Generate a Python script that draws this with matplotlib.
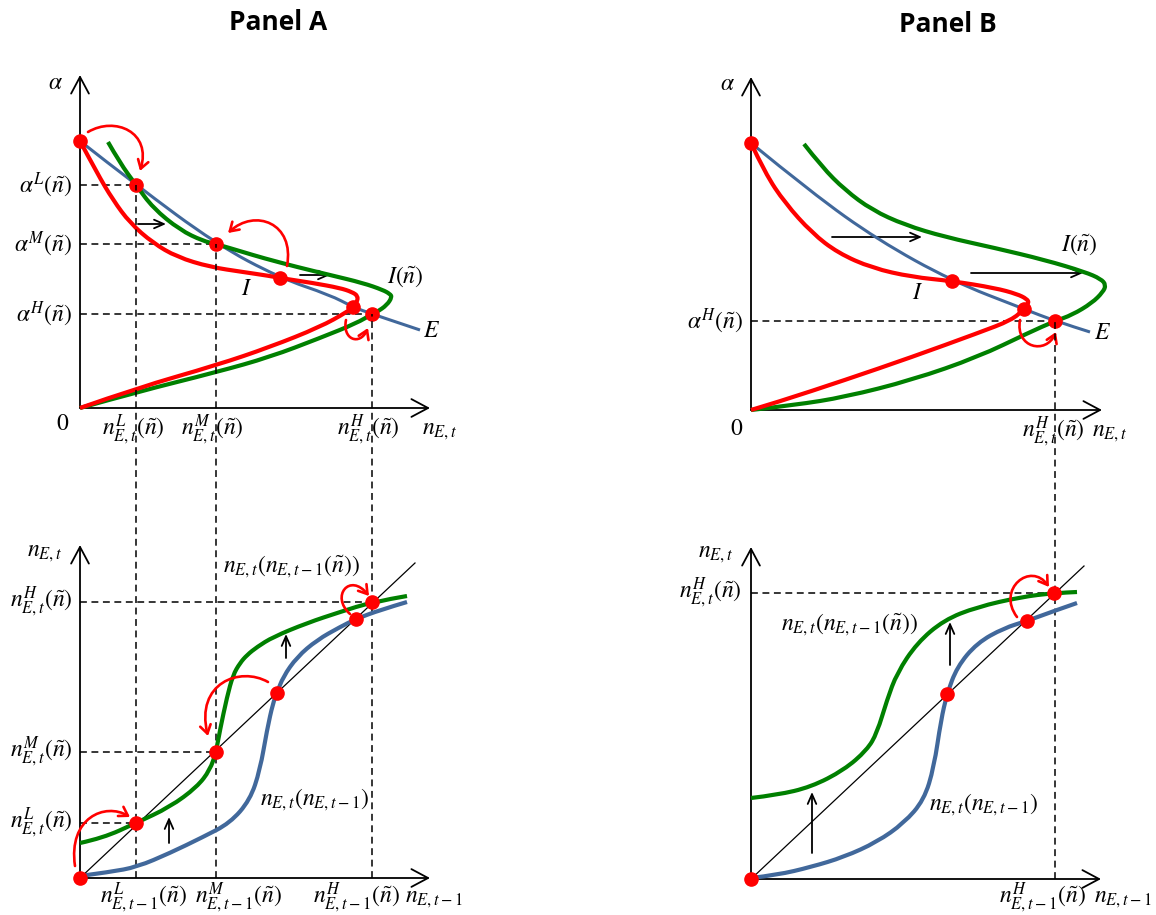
import matplotlib
matplotlib.use("Agg")
import matplotlib.pyplot as plt
from matplotlib.patches import FancyArrowPatch, PathPatch
from matplotlib.path import Path

plt.rcParams["mathtext.fontset"] = "stix"

W, H = 1156, 915
RED = "#ff0000"
GREEN = "#008000"
BLUE = "#41689b"

# ---------------- Panel A, upper chart: alpha against n_E,t ----------------
a_top_E_x = [0, 56, 136, 200, 250, 273, 292, 340]
a_top_E_y = [267, 223, 164, 130, 113, 101, 94, 78]
a_top_Itil_x = [28, 40, 56, 73, 100, 123, 136, 163, 183, 217, 250, 283, 303, 310, 312, 307,
                297, 292, 277, 240, 190, 137, 57, 0]
a_top_Itil_y = [266, 245, 223, 200, 178, 167, 164, 156, 150, 141, 133, 125, 118, 114, 111, 103,
                96, 94, 85, 70, 51, 36, 16, 0]
a_top_I_x = [0, 17, 33, 50, 73, 97, 130, 163, 190, 200, 233, 260, 272, 278, 277, 273, 267,
             240, 190, 137, 57, 0]
a_top_I_y = [267, 235, 208, 185, 165, 151, 141, 136, 132, 130, 125, 120, 116, 112, 106, 101, 96,
             81, 61, 43, 20, 0]
a_top_eq_x = [56, 136, 292]          # n^L, n^M, n^H
a_top_eq_y = [223, 164, 94]          # alpha^L, alpha^M, alpha^H
a_top_dots_x = [0, 56, 136, 200, 273, 292]
a_top_dots_y = [267, 223, 164, 130, 101, 94]

# ---------------- Panel A, lower chart: n_E,t against n_E,t-1 ----------------
a_bot_diag_x = [0, 335]
a_bot_diag_y = [0, 315]
a_bot_green_x = [0, 23, 56, 90, 117, 130, 136, 140, 147, 153, 160, 167, 177, 193, 227, 260, 292, 327]
a_bot_green_y = [35, 40, 55, 71, 91, 108, 126, 148, 181, 203, 215, 223, 231, 241, 255, 266, 276, 282]
a_bot_blue_x = [0, 30, 57, 90, 123, 150, 170, 180, 187, 193, 197, 203, 217, 237, 260, 276, 300, 327]
a_bot_blue_y = [2, 6, 11, 25, 41, 55, 78, 108, 148, 175, 185, 201, 221, 238, 251, 259, 268, 276]
a_bot_eq_y = [55, 126, 276]
a_bot_dots_x = [0, 56, 136, 197, 276, 292]
a_bot_dots_y = [0, 55, 126, 185, 259, 276]

# ---------------- Panel B, upper chart ----------------
b_top_E_x = [0, 61, 127, 201, 273, 304, 339]
b_top_E_y = [267, 217, 170, 129, 101, 89, 78]
b_top_I_x = [0, 14, 34, 61, 87, 121, 161, 201, 244, 266, 276, 278, 273, 261, 227, 161, 94, 27, 0]
b_top_I_y = [267, 237, 207, 177, 157, 142, 133, 129, 122, 116, 111, 107, 101, 90, 77, 53, 30, 8, 0]
b_top_Itil_x = [53, 71, 94, 121, 154, 194, 244, 294, 334, 350, 355, 352, 341, 321, 304, 277, 227,
                161, 94, 44, 0]
b_top_Itil_y = [266, 243, 220, 200, 185, 173, 162, 150, 138, 131, 125, 118, 107, 95, 89, 77, 53,
                30, 13, 5, 0]
b_top_eq_x = [304]
b_top_eq_y = [89]
b_top_dots_x = [0, 201, 273, 304]
b_top_dots_y = [267, 129, 101, 89]

# ---------------- Panel B, lower chart ----------------
b_bot_diag_x = [0, 333]
b_bot_diag_y = [0, 313]
b_bot_green_x = [0, 26, 60, 93, 116, 126, 136, 146, 166, 193, 226, 270, 303, 326]
b_bot_green_y = [81, 84, 92, 109, 129, 146, 179, 206, 236, 259, 272, 282, 286, 287]
b_bot_blue_x = [0, 26, 60, 93, 126, 153, 173, 183, 190, 196, 206, 226, 253, 276, 300, 326]
b_bot_blue_y = [1, 4, 12, 22, 37, 56, 79, 112, 159, 185, 212, 236, 251, 258, 267, 276]
b_bot_eq_y = [286]
b_bot_dots_x = [0, 196, 276, 303]
b_bot_dots_y = [0, 185, 258, 286]

fig = plt.figure(figsize=(W / 100, H / 100), dpi=100)


def panel(ox, oy):
    # full-figure transparent axes, 1 unit = 1 px, origin on the chart's axes corner
    ax = fig.add_axes([0, 0, 1, 1], frameon=False)
    ax.set_xlim(-ox, W - ox)
    ax.set_ylim(oy - H, oy)
    ax.axis("off")
    return ax


def draw_axes(ax, xmax, ymax):
    kw = dict(arrowstyle="->,head_length=0.75,head_width=0.4", lw=1.3, color="black",
              shrinkA=0, shrinkB=0, mutation_scale=16)
    ax.annotate("", xy=(0, ymax), xytext=(0, 0), arrowprops=kw)
    ax.annotate("", xy=(xmax, 0), xytext=(0, 0), arrowprops=kw)


def dashed(ax, xs, ys):
    ax.plot(xs, ys, color="black", lw=1.1, ls=(0, (4.5, 3)), zorder=1)


def red_arc(ax, p0, c1, c2, p1):
    path = Path([p0, c1, c2, p1], [Path.MOVETO, Path.CURVE4, Path.CURVE4, Path.CURVE4])
    ax.add_patch(FancyArrowPatch(path=path, arrowstyle="->,head_length=0.55,head_width=0.35",
                                 mutation_scale=11, color=RED, lw=1.9, zorder=6))


def black_arrow(ax, p0, p1):
    ax.annotate("", xy=p1, xytext=p0,
                arrowprops=dict(arrowstyle="->,head_length=0.5,head_width=0.22", lw=1.3,
                                color="black", shrinkA=0, shrinkB=0, mutation_scale=14))


def dots(ax, xs, ys):
    ax.plot(xs, ys, "o", color=RED, ms=9.5, zorder=8, mec=RED)


def curve(ax, xs, ys, color, lw):
    # the read points are the control points of a chain of quadratic Bezier pieces
    pts = list(zip(xs, ys))
    verts, codes = [pts[0]], [Path.MOVETO]
    n = len(pts)
    for i in range(1, n - 1):
        end = pts[-1] if i == n - 2 else ((pts[i][0] + pts[i + 1][0]) / 2,
                                         (pts[i][1] + pts[i + 1][1]) / 2)
        verts += [pts[i], end]
        codes += [Path.CURVE3, Path.CURVE3]
    ax.add_patch(PathPatch(Path(verts, codes), fill=False, edgecolor=color, lw=lw,
                           capstyle="butt", joinstyle="round", zorder=4))


FS = 17
TFONT = dict(fontsize=19, fontweight="bold", family="Open Sans", ha="center", va="center")

# ======================= Panel A top =======================
oxA, oyA_top, oyA_bot = 80, 408, 878
ax = panel(oxA, oyA_top)
draw_axes(ax, 350, 333)
for x, y in zip(a_top_eq_x, a_top_eq_y):
    dashed(ax, [0, x], [y, y])
curve(ax, a_top_E_x, a_top_E_y, BLUE, 2.2)
curve(ax, a_top_Itil_x, a_top_Itil_y, GREEN, 3)
curve(ax, a_top_I_x, a_top_I_y, RED, 3)
dots(ax, a_top_dots_x, a_top_dots_y)
red_arc(ax, (8, 276), (35, 292), (72, 276), (60, 237))
red_arc(ax, (207, 142), (215, 185), (175, 200), (148, 175))
red_arc(ax, (266, 88), (262, 68), (280, 62), (288, 80))
black_arrow(ax, (58, 184), (86, 184))
black_arrow(ax, (220, 133), (250, 133))
ax.text(-25, 326, r"$\alpha$", fontsize=FS, ha="center", va="center")
ax.text(-17, -15, r"$0$", fontsize=FS, ha="center", va="center")
for lab, y in zip(["L", "M", "H"], a_top_eq_y):
    ax.text(-8, y, r"$\alpha^{%s}(\tilde{n})$" % lab, fontsize=FS, ha="right", va="center")
for lab, x in zip(["L", "M", "H"], [53, 132, 288]):
    ax.text(x, -22, r"$n^{%s}_{E,t}(\tilde{n})$" % lab, fontsize=FS, ha="center", va="center")
ax.text(360, -22, r"$n_{E,t}$", fontsize=FS, ha="center", va="center")
ax.text(167, 120, r"$I$", fontsize=FS, ha="center", va="center")
ax.text(325, 131, r"$I(\tilde{n})$", fontsize=FS, ha="center", va="center")
ax.text(352, 78, r"$E$", fontsize=FS, ha="center", va="center")
ax.text(198, 386, "Panel A", **TFONT)

# ======================= Panel A bottom =======================
ax = panel(oxA, oyA_bot)
draw_axes(ax, 350, 333)
shift = oyA_bot - oyA_top
for x, yt, yb in zip(a_top_eq_x, a_top_eq_y, a_bot_eq_y):
    dashed(ax, [x, x], [0, yt + shift])
    dashed(ax, [0, x], [yb, yb])
ax.plot(a_bot_diag_x, a_bot_diag_y, color="black", lw=0.9, zorder=3)
curve(ax, a_bot_blue_x, a_bot_blue_y, BLUE, 3)
curve(ax, a_bot_green_x, a_bot_green_y, GREEN, 3)
dots(ax, a_bot_dots_x, a_bot_dots_y)
red_arc(ax, (-5, 12), (-12, 60), (25, 76), (50, 61))
red_arc(ax, (188, 196), (160, 212), (115, 195), (128, 142))
red_arc(ax, (270, 264), (250, 282), (270, 306), (289, 282))
black_arrow(ax, (89, 35), (89, 61))
black_arrow(ax, (206, 220), (206, 244))
ax.text(-35, 326, r"$n_{E,t}$", fontsize=FS, ha="center", va="center")
for lab, y in zip(["L", "M", "H"], a_bot_eq_y):
    ax.text(-7, y, r"$n^{%s}_{E,t}(\tilde{n})$" % lab, fontsize=FS, ha="right", va="center")
for lab, x in zip(["L", "M", "H"], [63, 158, 276]):
    ax.text(x, -20, r"$n^{%s}_{E,t-1}(\tilde{n})$" % lab, fontsize=FS, ha="center", va="center")
ax.text(354, -20, r"$n_{E,t-1}$", fontsize=FS, ha="center", va="center")
ax.text(143, 311, r"$n_{E,t}\left(n_{E,t-1}(\tilde{n})\right)$", fontsize=FS, ha="left", va="center")
ax.text(180, 78, r"$n_{E,t}\left(n_{E,t-1}\right)$", fontsize=FS, ha="left", va="center")

# ======================= Panel B top =======================
oxB, oyB_top, oyB_bot = 751, 410, 879
ax = panel(oxB, oyB_top)
draw_axes(ax, 351, 333)
dashed(ax, [0, b_top_eq_x[0]], [b_top_eq_y[0]] * 2)
curve(ax, b_top_E_x, b_top_E_y, BLUE, 2.2)
curve(ax, b_top_Itil_x, b_top_Itil_y, GREEN, 3)
curve(ax, b_top_I_x, b_top_I_y, RED, 3)
dots(ax, b_top_dots_x, b_top_dots_y)
red_arc(ax, (269, 90), (264, 62), (295, 55), (305, 78))
black_arrow(ax, (81, 173), (171, 173))
black_arrow(ax, (220, 137), (332, 137))
ax.text(-24, 327, r"$\alpha$", fontsize=FS, ha="center", va="center")
ax.text(-14, -18, r"$0$", fontsize=FS, ha="center", va="center")
ax.text(-8, b_top_eq_y[0], r"$\alpha^{H}(\tilde{n})$", fontsize=FS, ha="right", va="center")
ax.text(302, -22, r"$n^{H}_{E,t}(\tilde{n})$", fontsize=FS, ha="center", va="center")
ax.text(359, -22, r"$n_{E,t}$", fontsize=FS, ha="center", va="center")
ax.text(167, 118, r"$I$", fontsize=FS, ha="center", va="center")
ax.text(328, 165, r"$I(\tilde{n})$", fontsize=FS, ha="center", va="center")
ax.text(352, 78, r"$E$", fontsize=FS, ha="center", va="center")
ax.text(197, 385, "Panel B", **TFONT)

# ======================= Panel B bottom =======================
ax = panel(oxB, oyB_bot)
draw_axes(ax, 350, 332)
shiftB = oyB_bot - oyB_top
dashed(ax, [b_top_eq_x[0]] * 2, [0, b_top_eq_y[0] + shiftB])
dashed(ax, [0, b_top_eq_x[0]], [b_bot_eq_y[0]] * 2)
ax.plot(b_bot_diag_x, b_bot_diag_y, color="black", lw=0.9, zorder=3)
curve(ax, b_bot_blue_x, b_bot_blue_y, BLUE, 3)
curve(ax, b_bot_green_x, b_bot_green_y, GREEN, 3)
dots(ax, b_bot_dots_x, b_bot_dots_y)
red_arc(ax, (266, 262), (245, 290), (280, 318), (298, 292))
black_arrow(ax, (61, 26), (61, 87))
black_arrow(ax, (199, 214), (199, 257))
ax.text(-35, 326, r"$n_{E,t}$", fontsize=FS, ha="center", va="center")
ax.text(-9, b_bot_eq_y[0], r"$n^{H}_{E,t}(\tilde{n})$", fontsize=FS, ha="right", va="center")
ax.text(291, -19, r"$n^{H}_{E,t-1}(\tilde{n})$", fontsize=FS, ha="center", va="center")
ax.text(372, -19, r"$n_{E,t-1}$", fontsize=FS, ha="center", va="center")
ax.text(30, 254, r"$n_{E,t}\left(n_{E,t-1}(\tilde{n})\right)$", fontsize=FS, ha="left", va="center")
ax.text(178, 74, r"$n_{E,t}\left(n_{E,t-1}\right)$", fontsize=FS, ha="left", va="center")

fig.savefig("out.png", dpi=100)
